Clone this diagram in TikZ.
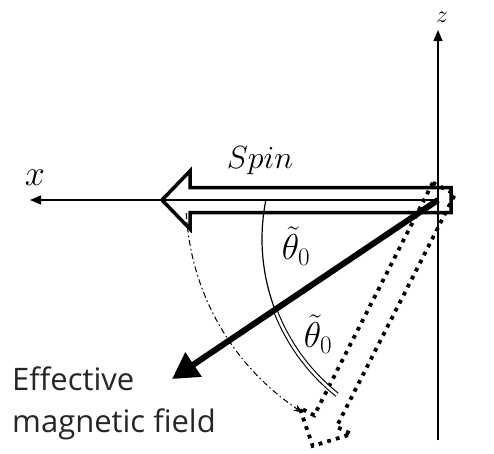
\RequirePackage{fix-cm}
\documentclass[tikz,border=0pt]{standalone}
\usepackage{fontspec}
\setsansfont{Open Sans}
\usetikzlibrary{arrows.meta}
\begin{document}
\begin{tikzpicture}[x=1pt,y=-1pt,
  axis/.style={line width=1.2pt,-{Triangle[length=11pt,width=9pt]}},
  spinshape/.style={line width=3.5pt,line join=miter},
  dotshape/.style={line width=3.8pt,dash pattern=on 3.8pt off 5.2pt},
  field/.style={line width=6pt,-{Triangle[length=26pt,width=28pt]}},
  mlabel/.style={font=\fontsize{32}{36}\selectfont,inner sep=0pt},
  thlabel/.style={font=\fontsize{36}{40}\selectfont,inner sep=0pt}]
\useasboundingbox (0,0) rectangle (494,453);
\coordinate (O) at (438,200);
\coordinate (Xend) at (30,200);
\coordinate (Ztop) at (438,30);
\coordinate (Zbot) at (438,440);
\coordinate (Ftip) at (172,379);
% hollow spin arrow
\begin{scope}[shift={(O)}]
  \draw[spinshape] (13,-12.5) -- (-248,-12.5) -- (-248,-29) -- (-276,0) -- (-248,29) -- (-248,12.5) -- (13,12.5) -- cycle;
\end{scope}
% dotted rotated arrow
\begin{scope}[shift={(O)},rotate=63]
  \draw[dotshape] (13,-12.5) -- (-248,-12.5) -- (-248,-29) -- (-276,0) -- (-248,29) -- (-248,12.5) -- (13,12.5) -- cycle;
\end{scope}
% axes
\draw[axis] (O) -- (Xend);
\draw[axis] (Zbot) -- (Ztop);
% dash-dot arc
\draw[line width=1pt,dash pattern=on 6pt off 3pt on 1.5pt off 3pt,-{Stealth[length=9pt,width=7pt]}]
  plot[domain=177:122.5,samples=60] ({438+252*cos(\x)},{200+252*sin(\x)});
% single arc
\draw[line width=1.2pt] plot[domain=191.4:159,samples=30] ({461+199*cos(\x)},{239+199*sin(\x)});
% double arc
\draw[line width=1.1pt,double,double distance=2.6pt] plot[domain=159:128.5,samples=30] ({461+199*cos(\x)},{239+199*sin(\x)});
% field arrow
\draw[field] (O) -- (Ftip);
% labels
\node[mlabel,anchor=base] (spin) at (260,168) {$Spin$};
\node[thlabel] (th1) at (296,246) {$\tilde{\theta}_0$};
\node[thlabel] (th2) at (318,334) {$\tilde{\theta}_0$};
\node[font=\fontsize{36}{40}\selectfont,inner sep=0pt,anchor=base] (xl) at (35,185) {$x$};
\node[font=\fontsize{24}{28}\selectfont,inner sep=0pt,anchor=base] (zl) at (442,22) {$z$};
\node[font=\sffamily\fontsize{31}{42}\selectfont,text=black!85,inner sep=0pt,anchor=base west,align=left] (eff) at (12,432) {Effective\\magnetic field};
\end{tikzpicture}
\end{document}
